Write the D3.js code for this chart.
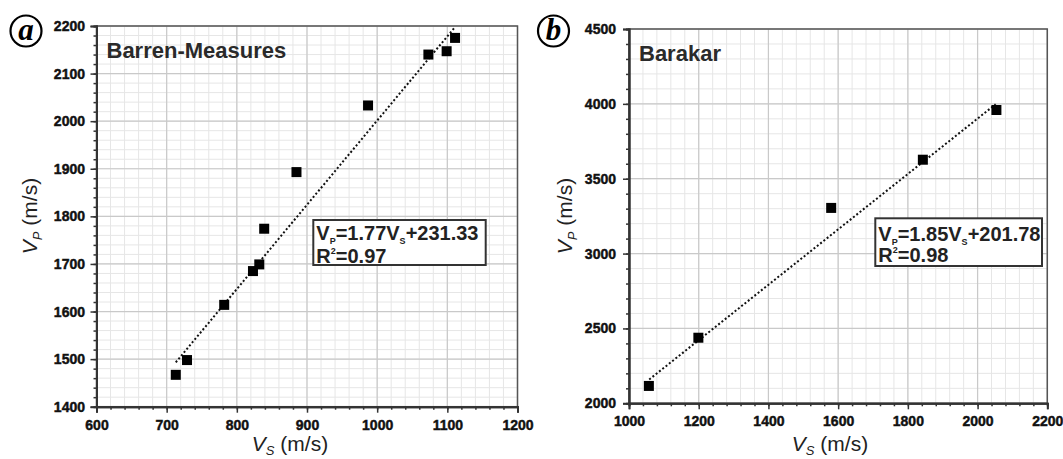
<!DOCTYPE html>
<html><head><meta charset="utf-8">
<script src="https://cdn.jsdelivr.net/npm/d3@7"></script>
<style>body{margin:0;background:#fff}svg{display:block}</style>
</head><body><svg id="c" width="1063" height="459"></svg>
<script>
// Panel (a) Barren-Measures
const barrenVs = [713, 729, 782, 823, 832, 839, 885, 987, 1073, 1099, 1111];
const barrenVp = [1467, 1498, 1614, 1685, 1699, 1774, 1893, 2033, 2140, 2147, 2175];
const barrenFit = [1.77, 231.33];
const barrenFitRange = [713, 1111];
const barrenXTicks = [600, 700, 800, 900, 1000, 1100, 1200];
const barrenYTicks = [1400, 1500, 1600, 1700, 1800, 1900, 2000, 2100, 2200];
const barrenEq = ["1.77", "+231.33", "0.97"];

// Panel (b) Barakar
const barakarVs = [1057, 1199, 1580, 1843, 2054];
const barakarVp = [2116, 2438, 3305, 3627, 3959];
const barakarFit = [1.85, 201.78];
const barakarFitRange = [1058, 2052];
const barakarXTicks = [1000, 1200, 1400, 1600, 1800, 2000, 2200];
const barakarYTicks = [2000, 2500, 3000, 3500, 4000, 4500];
const barakarEq = ["1.85", "+201.78", "0.98"];

const svg = d3.select("#c");
const SANS = "'Liberation Sans', Arial, sans-serif";

function panel(o) {
  const x = d3.scaleLinear().domain([o.xt[0], o.xt[o.xt.length-1]]).range([o.L, o.R]);
  const y = d3.scaleLinear().domain([o.yt[0], o.yt[o.yt.length-1]]).range([o.B, o.T]);
  const g = svg.append("g");
  const xMinor = d3.range(o.xt[0], o.xt[o.xt.length-1] + 1e-6, o.xMinor);
  const yMinor = d3.range(o.yt[0], o.yt[o.yt.length-1] + 1e-6, o.yGrid);
  g.selectAll(".vm").data(xMinor).join("line")
    .attr("x1", d => x(d)).attr("x2", d => x(d)).attr("y1", o.T).attr("y2", o.B)
    .attr("stroke", "#e6e6e6").attr("stroke-width", 1);
  g.selectAll(".hm").data(yMinor).join("line")
    .attr("y1", d => y(d)).attr("y2", d => y(d)).attr("x1", o.L).attr("x2", o.R)
    .attr("stroke", "#e6e6e6").attr("stroke-width", 1);
  g.selectAll(".vM").data(o.xt).join("line")
    .attr("x1", d => x(d)).attr("x2", d => x(d)).attr("y1", o.T).attr("y2", o.B)
    .attr("stroke", "#c9c9c9").attr("stroke-width", 1.2);
  g.selectAll(".hM").data(o.yt).join("line")
    .attr("y1", d => y(d)).attr("y2", d => y(d)).attr("x1", o.L).attr("x2", o.R)
    .attr("stroke", "#c9c9c9").attr("stroke-width", 1.2);
  g.append("rect").attr("x", o.L).attr("y", o.T).attr("width", o.R - o.L).attr("height", o.B - o.T)
    .attr("fill", "none").attr("stroke", "#555").attr("stroke-width", 1.5);
  const yMinorTicks = d3.range(o.yt[0], o.yt[o.yt.length-1] + 1e-6, o.yMinor);
  const xm = g.append("g").attr("transform", `translate(0,${o.B})`)
    .call(d3.axisBottom(x).tickValues(xMinor).tickSize(3).tickFormat(""));
  const xa = g.append("g").attr("transform", `translate(0,${o.B})`)
    .call(d3.axisBottom(x).tickValues(o.xt).tickSize(6).tickPadding(7).tickFormat(d3.format("d")));
  const ym = g.append("g").attr("transform", `translate(${o.L},0)`)
    .call(d3.axisLeft(y).tickValues(yMinorTicks).tickSize(3).tickFormat(""));
  const ya = g.append("g").attr("transform", `translate(${o.L},0)`)
    .call(d3.axisLeft(y).tickValues(o.yt).tickSize(6).tickPadding(o.yPad).tickFormat(d3.format("d")));
  [xm, xa, ym, ya].forEach(a => {
    a.attr("font-family", null).attr("font-size", null);
    a.selectAll("path.domain").attr("stroke", "#333").attr("stroke-width", 2);
    a.selectAll(".tick line").attr("stroke", "#333").attr("stroke-width", 1.5);
    a.selectAll(".tick text")
      .style("font-family", SANS).style("font-size", "14px").style("font-weight", "700")
      .attr("fill", "#111").attr("stroke", "#111").attr("stroke-width", 0.45);
  });
  const fx = o.fitRange;
  g.append("line")
    .attr("x1", x(fx[0])).attr("y1", y(o.fit[0]*fx[0] + o.fit[1]))
    .attr("x2", x(fx[1])).attr("y2", y(o.fit[0]*fx[1] + o.fit[1]))
    .attr("stroke", "#111").attr("stroke-width", 2).attr("stroke-dasharray", "2,2.2");
  g.selectAll(".pt").data(o.xs.map((v, i) => [v, o.ys[i]])).join("rect")
    .attr("x", d => x(d[0]) - 5).attr("y", d => y(d[1]) - 5)
    .attr("width", 10).attr("height", 10).attr("fill", "#000");
  g.append("rect").attr("x", o.box[0]).attr("y", o.box[1]).attr("width", o.box[2]).attr("height", o.box[3])
    .attr("fill", "#fff").attr("stroke", "#333").attr("stroke-width", 2);
  const t1 = g.append("text").attr("x", o.box[0] + 3).attr("y", o.box[1] + o.l1)
    .style("font-family", SANS).style("font-weight", "bold").style("font-size", "20px").attr("fill", "#222");
  t1.append("tspan").text("V");
  t1.append("tspan").text("P").style("font-size", "9px").attr("dy", 4);
  t1.append("tspan").text("=" + o.eq[0] + "V").attr("dy", -4);
  t1.append("tspan").text("S").style("font-size", "9px").attr("dy", 4);
  t1.append("tspan").text(o.eq[1]).attr("dy", -4);
  const t2 = g.append("text").attr("x", o.box[0] + 3).attr("y", o.box[1] + o.l2)
    .style("font-family", SANS).style("font-weight", "bold").style("font-size", "20px").attr("fill", "#222");
  t2.append("tspan").text("R");
  t2.append("tspan").text("2").style("font-size", "9px").attr("dy", -9);
  t2.append("tspan").text("=" + o.eq[2]).attr("dy", 9);
  g.append("text").attr("x", o.L + 10).attr("y", o.titleY).text(o.title)
    .style("font-family", SANS).style("font-weight", "bold").style("font-size", "22px").attr("fill", "#2a2a2a");
  g.append("circle").attr("cx", o.letterC[0]).attr("cy", o.letterC[1]).attr("r", 15.5)
    .attr("fill", "#fff").attr("stroke", "#000").attr("stroke-width", 2.2);
  g.append("text").attr("x", o.letterC[0]).attr("y", o.letterC[1] + 8.5).attr("text-anchor", "middle")
    .text(o.letter).style("font-family", "'Liberation Serif', 'DejaVu Serif', serif")
    .style("font-style", "italic").style("font-weight", "bold").style("font-size", "31px").attr("fill", "#000");
  const xl = g.append("text").attr("x", o.xLabX).attr("y", 451).attr("text-anchor", "middle")
    .style("font-family", SANS).style("font-size", "21px").attr("fill", "#222");
  xl.append("tspan").text("V").style("font-style", "italic");
  xl.append("tspan").text("S").style("font-style", "italic").style("font-size", "13px").attr("dy", 4);
  xl.append("tspan").text(" (m/s)").attr("dy", -4);
  const yl = g.append("text").attr("transform", `translate(${o.yLabX},216) rotate(-90)`).attr("text-anchor", "middle")
    .style("font-family", SANS).style("font-size", "21px").attr("fill", "#222");
  yl.append("tspan").text("V").style("font-style", "italic");
  yl.append("tspan").text("P").style("font-style", "italic").style("font-size", "13px").attr("dy", 5);
  yl.append("tspan").text(" (m/s)").attr("dy", -5);
}

panel({xs: barrenVs, ys: barrenVp, fit: barrenFit, fitRange: barrenFitRange,
  xt: barrenXTicks, yt: barrenYTicks, xMinor: 20, yMinor: 20, yGrid: 20,
  L: 96.5, R: 517.5, T: 26, B: 406.7, yPad: 5.5,
  box: [313.3, 220, 172.4, 45], l1: 19.5, l2: 42.5, eq: barrenEq,
  title: "Barren-Measures", titleY: 58.3, letter: "a", letterC: [26, 31],
  xLabX: 290, yLabX: 37});

panel({xs: barakarVs, ys: barakarVp, fit: barakarFit, fitRange: barakarFitRange,
  xt: barakarXTicks, yt: barakarYTicks, xMinor: 40, yMinor: 100, yGrid: 100,
  L: 629, R: 1047.3, T: 29, B: 403.3, yPad: 7,
  box: [875.3, 218.3, 166.7, 47.7], l1: 22.5, l2: 43.5, eq: barakarEq,
  title: "Barakar", titleY: 60.7, letter: "b", letterC: [553.5, 31],
  xLabX: 830, yLabX: 572});
</script></body></html>
